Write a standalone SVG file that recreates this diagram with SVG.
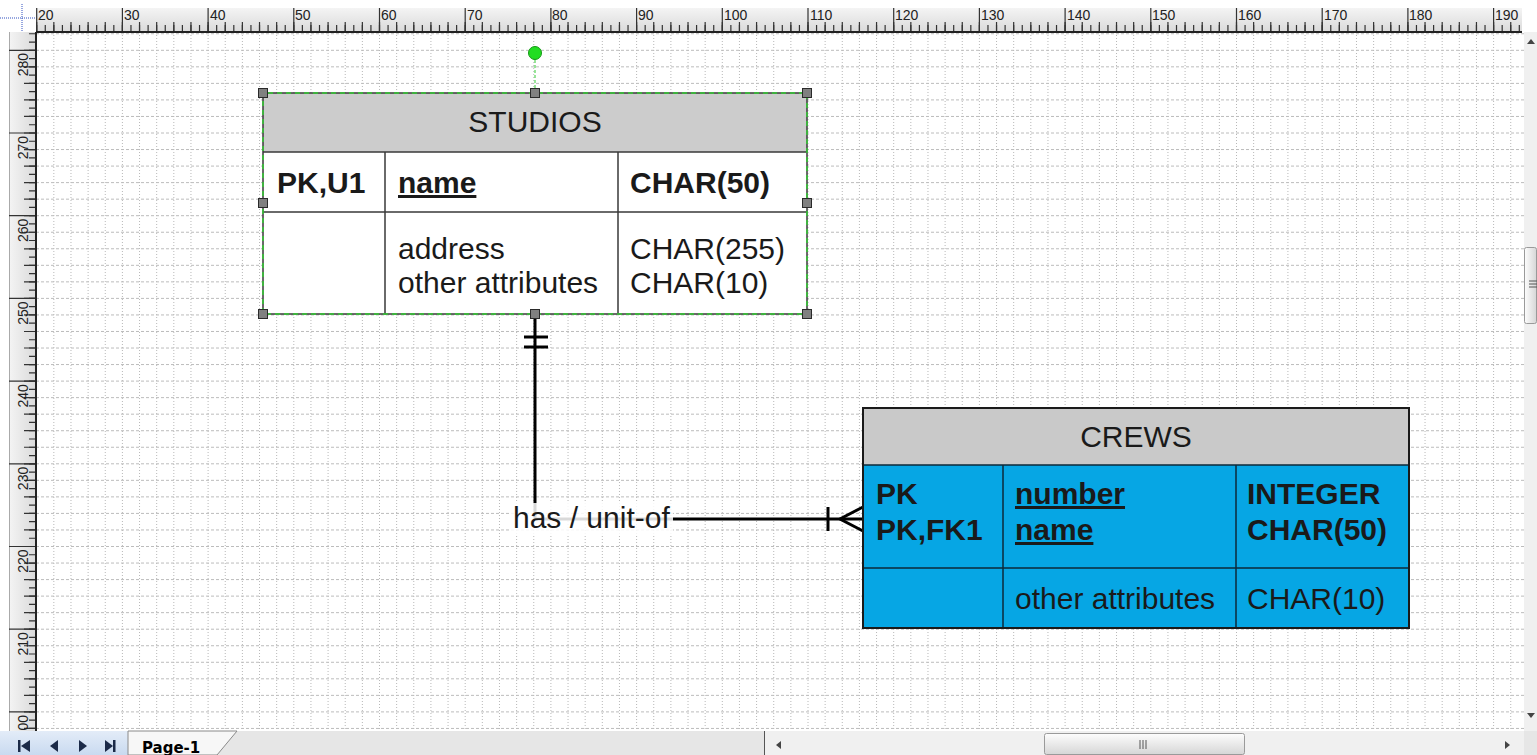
<svg xmlns="http://www.w3.org/2000/svg" width="1537" height="755" viewBox="0 0 1537 755">
<defs>
<linearGradient id="rulerH" x1="0" y1="0" x2="0" y2="1"><stop offset="0" stop-color="#f4f4f4"/><stop offset="1" stop-color="#dadada"/></linearGradient>
<linearGradient id="rulerV" x1="0" y1="0" x2="1" y2="0"><stop offset="0" stop-color="#f4f4f4"/><stop offset="1" stop-color="#dadada"/></linearGradient>
<linearGradient id="navbg" x1="0" y1="0" x2="0" y2="1"><stop offset="0" stop-color="#e3ecf8"/><stop offset="1" stop-color="#c9daf0"/></linearGradient>
<linearGradient id="thumbH" x1="0" y1="0" x2="0" y2="1"><stop offset="0" stop-color="#fdfdfd"/><stop offset="1" stop-color="#d6d6d6"/></linearGradient>
<linearGradient id="thumbV" x1="0" y1="0" x2="1" y2="0"><stop offset="0" stop-color="#fdfdfd"/><stop offset="1" stop-color="#d6d6d6"/></linearGradient>
<clipPath id="canvasClip"><rect x="36" y="32" width="1488" height="699"/></clipPath>
<clipPath id="topClip"><rect x="36" y="0" width="1486" height="32"/></clipPath>
<clipPath id="leftClip"><rect x="0" y="32" width="36" height="699"/></clipPath>
</defs>
<style>
.gridv{fill:none;stroke:#b8b8b8;stroke-width:1;stroke-dasharray:1 2}
.gridh{fill:none;stroke:#bcbcbc;stroke-width:1;stroke-dasharray:3 2}
.rl{font-family:"Liberation Sans",Arial,sans-serif;font-size:14px;fill:#222}
.t{font-family:"Liberation Sans",Arial,sans-serif;font-size:30px;fill:#1a1a1a}
.b{font-weight:bold}
.u{text-decoration:underline}
.tbl{stroke:#3a3a3a;stroke-width:1.5;fill:none}
.tblc{stroke:#0d2a3a;stroke-width:1.5;fill:none}
.handle{fill:#808080;stroke:#2a2a2a;stroke-width:1}
.conn{fill:none;stroke:#000;stroke-width:3}
.nav{fill:#1b2a48}
.tick{stroke:#333}
</style>
<rect x="0" y="0" width="1537" height="755" fill="#ffffff"/>
<!-- canvas grid -->
<g id="grid" clip-path="url(#canvasClip)">
<path class="gridv" d="M53.84 32V731M70.98 32V731M88.12 32V731M105.26 32V731M122.4 32V731M139.54 32V731M156.68 32V731M173.82 32V731M190.96 32V731M208.1 32V731M225.24 32V731M242.38 32V731M259.52 32V731M276.66 32V731M293.8 32V731M310.94 32V731M328.08 32V731M345.22 32V731M362.36 32V731M379.5 32V731M396.64 32V731M413.78 32V731M430.92 32V731M448.06 32V731M465.2 32V731M482.34 32V731M499.48 32V731M516.62 32V731M533.76 32V731M550.9 32V731M568.04 32V731M585.18 32V731M602.32 32V731M619.46 32V731M636.6 32V731M653.74 32V731M670.88 32V731M688.02 32V731M705.16 32V731M722.3 32V731M739.44 32V731M756.58 32V731M773.72 32V731M790.86 32V731M808 32V731M825.14 32V731M842.28 32V731M859.42 32V731M876.56 32V731M893.7 32V731M910.84 32V731M927.98 32V731M945.12 32V731M962.26 32V731M979.4 32V731M996.54 32V731M1013.68 32V731M1030.82 32V731M1047.96 32V731M1065.1 32V731M1082.24 32V731M1099.38 32V731M1116.52 32V731M1133.66 32V731M1150.8 32V731M1167.94 32V731M1185.08 32V731M1202.22 32V731M1219.36 32V731M1236.5 32V731M1253.64 32V731M1270.78 32V731M1287.92 32V731M1305.06 32V731M1322.2 32V731M1339.34 32V731M1356.48 32V731M1373.62 32V731M1390.76 32V731M1407.9 32V731M1425.04 32V731M1442.18 32V731M1459.32 32V731M1476.46 32V731M1493.6 32V731M1510.74 32V731"/>
<path class="gridh" d="M36 33.76H1524M36 50.3H1524M36 66.84H1524M36 83.38H1524M36 99.92H1524M36 116.46H1524M36 133H1524M36 149.54H1524M36 166.08H1524M36 182.62H1524M36 199.16H1524M36 215.7H1524M36 232.24H1524M36 248.78H1524M36 265.32H1524M36 281.86H1524M36 298.4H1524M36 314.94H1524M36 331.48H1524M36 348.02H1524M36 364.56H1524M36 381.1H1524M36 397.64H1524M36 414.18H1524M36 430.72H1524M36 447.26H1524M36 463.8H1524M36 480.34H1524M36 496.88H1524M36 513.42H1524M36 529.96H1524M36 546.5H1524M36 563.04H1524M36 579.58H1524M36 596.12H1524M36 612.66H1524M36 629.2H1524M36 645.74H1524M36 662.28H1524M36 678.82H1524M36 695.36H1524M36 711.9H1524M36 728.44H1524"/>
</g>
<!-- top ruler -->
<g id="ruler-top">
<rect x="36" y="8" width="1486" height="24" fill="url(#rulerH)"/>
<g clip-path="url(#topClip)">
<line class="tick" x1="36.1" y1="28.5" x2="1522" y2="28.5" stroke-width="7" stroke-dasharray="1.2 7.37"/>
<line class="tick" x1="36.1" y1="27" x2="1522" y2="27" stroke-width="10" stroke-dasharray="1.2 15.94"/>
<line class="tick" x1="36.1" y1="20" x2="1522" y2="20" stroke-width="24" stroke-dasharray="1.2 84.5"/>
</g>
<line x1="36" y1="32" x2="1522" y2="32" stroke="#222" stroke-width="2"/>
<text class="rl" x="38" y="20">20</text><text class="rl" x="124" y="20">30</text><text class="rl" x="210" y="20">40</text><text class="rl" x="295" y="20">50</text><text class="rl" x="381" y="20">60</text><text class="rl" x="467" y="20">70</text><text class="rl" x="552" y="20">80</text><text class="rl" x="638" y="20">90</text><text class="rl" x="724" y="20">100</text><text class="rl" x="810" y="20">110</text><text class="rl" x="895" y="20">120</text><text class="rl" x="981" y="20">130</text><text class="rl" x="1067" y="20">140</text><text class="rl" x="1152" y="20">150</text><text class="rl" x="1238" y="20">160</text><text class="rl" x="1324" y="20">170</text><text class="rl" x="1409" y="20">180</text><text class="rl" x="1495" y="20">190</text>
</g>
<!-- left ruler -->
<g id="ruler-left">
<rect x="9" y="32" width="27" height="699" fill="url(#rulerV)"/>
<line x1="9.5" y1="32" x2="9.5" y2="731" stroke="#aaa" stroke-width="1"/>
<g clip-path="url(#leftClip)">
<line class="tick" x1="32.5" y1="33.16" x2="32.5" y2="731" stroke-width="7" stroke-dasharray="1.2 7.07"/>
<line class="tick" x1="30" y1="49.7" x2="30" y2="731" stroke-width="12" stroke-dasharray="1.2 15.34"/>
<line class="tick" x1="22.5" y1="49.7" x2="22.5" y2="731" stroke-width="27" stroke-dasharray="1.2 81.5"/>
<text class="rl" text-anchor="end" transform="translate(28,53) rotate(-90)">280</text>
<text class="rl" text-anchor="end" transform="translate(28,136) rotate(-90)">270</text>
<text class="rl" text-anchor="end" transform="translate(28,218.7) rotate(-90)">260</text>
<text class="rl" text-anchor="end" transform="translate(28,301.4) rotate(-90)">250</text>
<text class="rl" text-anchor="end" transform="translate(28,384.1) rotate(-90)">240</text>
<text class="rl" text-anchor="end" transform="translate(28,466.8) rotate(-90)">230</text>
<text class="rl" text-anchor="end" transform="translate(28,549.5) rotate(-90)">220</text>
<text class="rl" text-anchor="end" transform="translate(28,632.2) rotate(-90)">210</text>
<text class="rl" text-anchor="end" transform="translate(28,714.9) rotate(-90)">200</text>
</g>
<line x1="36" y1="32" x2="36" y2="731" stroke="#222" stroke-width="2"/>
</g>
<!-- corner -->
<g id="corner">
<line x1="0" y1="18" x2="36" y2="18" stroke="#3050c0" stroke-width="1" stroke-dasharray="1 1"/>
<line x1="22" y1="4" x2="22" y2="32" stroke="#3050c0" stroke-width="1" stroke-dasharray="1 1"/>
</g>
<!-- connectors -->
<g id="connectors">
<path class="conn" d="M535 318V519H862"/>
<line class="conn" x1="524" y1="337" x2="548" y2="337"/>
<line class="conn" x1="524" y1="347" x2="548" y2="347"/>
<line class="conn" x1="828" y1="507" x2="828" y2="531"/>
<path class="conn" d="M863 507L840 519L863 531"/>
<rect x="511" y="503" width="162" height="31" fill="#ffffff" fill-opacity="0.85"/>
<text class="t" x="513" y="528">has / unit-of</text>
</g>
<!-- STUDIOS -->
<g id="studios">
<rect x="263" y="93" width="544" height="221" fill="#ffffff"/>
<rect x="263" y="93" width="544" height="59" fill="#cccccc"/>
<path class="tbl" d="M263 152H807M263 212H807M385 152V314M618 152V314"/>
<rect x="263" y="93" width="544" height="221" fill="none" stroke="#3a3a3a" stroke-width="1.5"/>
<rect x="263" y="93" width="544" height="221" fill="none" stroke="#33cc33" stroke-width="1.5" stroke-dasharray="5 4" stroke-dashoffset="4"/>
<text class="t" x="535" y="132" text-anchor="middle">STUDIOS</text>
<text class="t b" x="277" y="193">PK,U1</text>
<text class="t b u" x="398" y="193">name</text>
<text class="t b" x="630" y="193">CHAR(50)</text>
<text class="t" x="398" y="259">address</text>
<text class="t" x="398" y="293">other attributes</text>
<text class="t" x="630" y="259">CHAR(255)</text>
<text class="t" x="630" y="293">CHAR(10)</text>
<line x1="535" y1="60" x2="535" y2="89" stroke="#33cc33" stroke-width="1" stroke-dasharray="3 2"/>
<circle cx="535" cy="53" r="6.5" fill="#22dd22" stroke="#139913" stroke-width="1"/>
<rect class="handle" x="258.5" y="88.5" width="9" height="9"/>
<rect class="handle" x="530.5" y="88.5" width="9" height="9"/>
<rect class="handle" x="802.5" y="88.5" width="9" height="9"/>
<rect class="handle" x="258.5" y="198.5" width="9" height="9"/>
<rect class="handle" x="802.5" y="198.5" width="9" height="9"/>
<rect class="handle" x="258.5" y="309.5" width="9" height="9"/>
<rect class="handle" x="530.5" y="309.5" width="9" height="9"/>
<rect class="handle" x="802.5" y="309.5" width="9" height="9"/>
</g>
<!-- CREWS -->
<g id="crews">
<rect x="863" y="408" width="546" height="220" fill="#06a6e4"/>
<rect x="863" y="408" width="546" height="57" fill="#c9c9c9"/>
<path class="tblc" d="M863 465H1409M863 568H1409M1003 465V628M1236 465V628"/>
<rect x="863" y="408" width="546" height="220" fill="none" stroke="#1a1a1a" stroke-width="2"/>
<text class="t" x="1136" y="447" text-anchor="middle">CREWS</text>
<text class="t b" x="876" y="504">PK</text>
<text class="t b" x="876" y="540">PK,FK1</text>
<text class="t b u" x="1015" y="504">number</text>
<text class="t b u" x="1015" y="540">name</text>
<text class="t b" x="1247" y="504">INTEGER</text>
<text class="t b" x="1247" y="540">CHAR(50)</text>
<text class="t" x="1015" y="609">other attributes</text>
<text class="t" x="1247" y="609">CHAR(10)</text>
</g>
<!-- vertical scrollbar -->
<g id="vscroll">
<rect x="1524" y="32" width="13" height="699" fill="#f0f0f0"/>
<polygon points="1527,44 1531,39 1535,44" fill="#444"/>
<polygon points="1527,713 1531,718 1535,713" fill="#444"/>
<rect x="1524.5" y="247.5" width="12" height="76" rx="2" fill="url(#thumbV)" stroke="#9a9a9a"/>
<path d="M1529 281H1537M1529 284H1537M1529 287H1537" stroke="#555" stroke-width="1"/>
</g>
<!-- bottom bar -->
<g id="bottombar">
<rect x="0" y="731" width="1537" height="24" fill="#e6e6e6"/>
<rect x="0" y="731" width="128" height="24" fill="url(#navbg)"/>
<rect class="nav" x="18" y="740" width="2.5" height="12"/>
<polygon class="nav" points="21,746 30,740 30,752"/>
<polygon class="nav" points="50,746 58,740 58,752"/>
<polygon class="nav" points="79,740 87,746 79,752"/>
<polygon class="nav" points="105,740 113,746 105,752"/>
<rect class="nav" x="113" y="740" width="2.5" height="12"/>
<polygon points="128,731 237,731 217,755 128,755" fill="#f7f7f7" stroke="#8a8a8a" stroke-width="1"/>
<text x="142" y="753" font-family="'DejaVu Sans',Verdana,sans-serif" font-size="15" font-weight="bold" fill="#000">Page-1</text>
<rect x="764" y="731" width="760" height="24" fill="#f0f0f0"/>
<line x1="764.5" y1="731" x2="764.5" y2="755" stroke="#555" stroke-width="1"/>
<polygon points="776,745 781,741 781,749" fill="#444"/>
<polygon points="1505,741 1510,745 1505,749" fill="#444"/>
<rect x="1044.5" y="733.5" width="200" height="21" rx="2" fill="url(#thumbH)" stroke="#9a9a9a"/>
<path d="M1140 740V749M1143 740V749M1146 740V749" stroke="#555" stroke-width="1"/>
</g>
</svg>
